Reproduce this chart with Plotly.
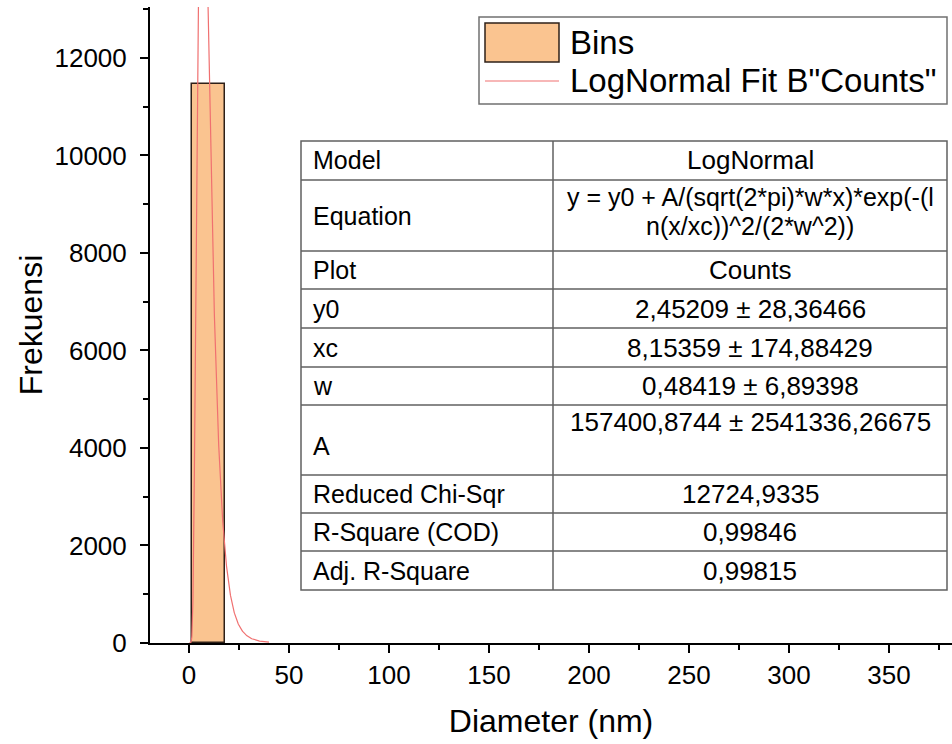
import numpy as np
import plotly.graph_objects as go

# ---- histogram data ----
bin_left = [1.6]
bin_right = [18.0]
bin_counts = [11460]

# ---- fit report (LogNormal) ----
table_labels = ["Model", "Equation", "Plot", "y0", "xc", "w", "A",
                "Reduced Chi-Sqr", "R-Square (COD)", "Adj. R-Square"]
table_values = ["LogNormal",
                "y = y0 + A/(sqrt(2*pi)*w*x)*exp(-(l\nn(x/xc))^2/(2*w^2))",
                "Counts",
                "2,45209 ± 28,36466",
                "8,15359 ± 174,88429",
                "0,48419 ± 6,89398",
                "157400,8744 ± 2541336,26675",
                "12724,9335",
                "0,99846",
                "0,99815"]

x_ticks = [0, 50, 100, 150, 200, 250, 300, 350]
y_ticks = [0, 2000, 4000, 6000, 8000, 10000, 12000]


def param(name):
    s = table_values[table_labels.index(name)]
    return float(s.split("±")[0].strip().replace(",", "."))


y0, xc, w, A = param("y0"), param("xc"), param("w"), param("A")
x_fit = np.linspace(0.3, 40, 800)
y_fit = y0 + A / (np.sqrt(2 * np.pi) * w * x_fit) * np.exp(-(np.log(x_fit / xc)) ** 2 / (2 * w ** 2))

# ---- page geometry (pixels) ----
W, H = 952, 744
ML, MR, MT, MB = 150, 0, 7, 101
PW, PH = W - ML - MR, H - MT - MB


def px(x):
    return (x - ML) / PW


def py(y):
    return (H - MB - y) / PH


FONT = "Liberation Sans, Arial, sans-serif"
FIT_COLOR = "rgb(240,112,112)"
BAR_FILL = "#FAC490"
BAR_EDGE = "#2e2018"

fig = go.Figure()
fig.add_trace(go.Bar(
    x=[(a + b) / 2 for a, b in zip(bin_left, bin_right)],
    y=bin_counts,
    width=[b - a for a, b in zip(bin_left, bin_right)],
    marker=dict(color=BAR_FILL, line=dict(color=BAR_EDGE, width=1.5)),
    name="Bins", showlegend=False,
))
fig.add_trace(go.Scatter(
    x=x_fit, y=y_fit, mode="lines",
    line=dict(color=FIT_COLOR, width=1.2),
    name='LogNormal Fit B"Counts"', showlegend=False, cliponaxis=True,
))

shapes = []
annotations = []

# ---- legend ----
shapes.append(dict(type="rect", xref="paper", yref="paper",
                   x0=px(479), x1=px(947), y0=py(104), y1=py(17),
                   line=dict(color="#707070", width=1.5), fillcolor="white", layer="above"))
shapes.append(dict(type="rect", xref="paper", yref="paper",
                   x0=px(485), x1=px(559), y0=py(62), y1=py(23),
                   line=dict(color=BAR_EDGE, width=1.5), fillcolor=BAR_FILL, layer="above"))
shapes.append(dict(type="line", xref="paper", yref="paper",
                   x0=px(485), x1=px(559), y0=py(81), y1=py(81),
                   line=dict(color=FIT_COLOR, width=1.2), layer="above"))
for text, yc in [("Bins", 42), ('LogNormal Fit B"Counts"', 81)]:
    annotations.append(dict(text=text, xref="paper", yref="paper", x=px(568), y=py(yc),
                            xanchor="left", yanchor="middle", showarrow=False,
                            font=dict(family=FONT, size=33, color="black")))

# ---- fit table ----
tx0, tx1, tx2 = 301, 553, 947
row_edges = [141, 180, 251, 289, 328, 367, 405, 475, 513, 551, 590]
shapes.append(dict(type="rect", xref="paper", yref="paper",
                   x0=px(tx0), x1=px(tx2), y0=py(row_edges[-1]), y1=py(row_edges[0]),
                   line=dict(color="#606060", width=1.5), fillcolor="white", layer="above"))
shapes.append(dict(type="line", xref="paper", yref="paper",
                   x0=px(tx1), x1=px(tx1), y0=py(row_edges[-1]), y1=py(row_edges[0]),
                   line=dict(color="#606060", width=1.5), layer="above"))
for e in row_edges[1:-1]:
    shapes.append(dict(type="line", xref="paper", yref="paper",
                       x0=px(tx0), x1=px(tx2), y0=py(e), y1=py(e),
                       line=dict(color="#606060", width=1.5), layer="above"))

for i, (lab, val) in enumerate(zip(table_labels, table_values)):
    top, bot = row_edges[i], row_edges[i + 1]
    tall = (bot - top) > 50
    ly = (top + bot) / 2 + (6 if lab == "A" else 0)
    annotations.append(dict(text=lab, xref="paper", yref="paper", x=px(tx0 + 10), y=py(ly),
                            xanchor="left", yanchor="middle", showarrow=False,
                            font=dict(family=FONT, size=25, color="black")))
    lines = val.split("\n")
    for k, line in enumerate(lines):
        vy = top + 17 + 29 * k if tall else (top + bot) / 2
        annotations.append(dict(text=line, xref="paper", yref="paper", x=px((tx1 + tx2) / 2), y=py(vy),
                                xanchor="center", yanchor="middle", showarrow=False,
                                font=dict(family=FONT, size=25 if len(lines) > 1 else 26,
                                          color="black")))

axis_common = dict(
    showline=True, linecolor="black", linewidth=2,
    ticks="outside", ticklen=8, tickwidth=2, tickcolor="black",
    showgrid=False, zeroline=False, tickformat="d",
    tickfont=dict(family=FONT, size=26, color="black"),
    title_font=dict(family=FONT, size=32, color="black"),
)

fig.update_layout(
    width=W, height=H,
    margin=dict(l=ML, r=MR, t=MT, b=MB),
    paper_bgcolor="white", plot_bgcolor="white",
    bargap=0,
    xaxis=dict(range=[-19.5, 381.5], tickmode="array", tickvals=x_ticks,
               minor=dict(tickmode="linear", tick0=25, dtick=50, ticks="outside",
                          ticklen=5, tickwidth=2, tickcolor="black"),
               title=dict(text="Diameter (nm)", standoff=20),
               ticklabelstandoff=0, **axis_common),
    yaxis=dict(range=[0, 13045], tickmode="array", tickvals=y_ticks,
               minor=dict(tickmode="linear", tick0=1000, dtick=2000, ticks="outside",
                          ticklen=5, tickwidth=2, tickcolor="black"),
               title=dict(text="Frekuensi", standoff=2),
               ticklabelstandoff=8, **axis_common),
    shapes=shapes, annotations=annotations,
    showlegend=False,
)

fig.write_html("out.html")
